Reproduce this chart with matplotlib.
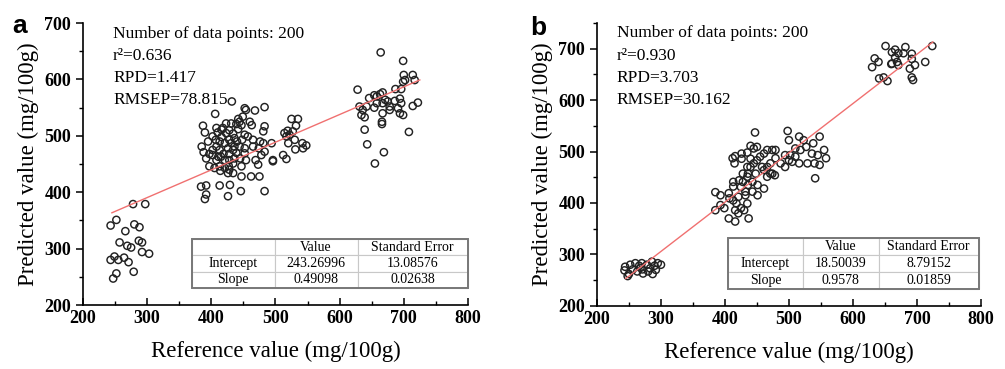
import numpy as np
import matplotlib
matplotlib.use('Agg')
import matplotlib.pyplot as plt
from matplotlib.ticker import MultipleLocator
from matplotlib.patches import Rectangle

plt.rcParams['font.family'] = 'Liberation Serif'

# %%
# panel a: reference vs predicted
a_ref = [243, 252, 278, 297, 266, 280, 288, 257, 269, 275, 287, 292, 292, 303, 243, 249, 255, 264, 271, 252, 247, 279,
         432, 406, 452, 483, 468, 387, 410, 390, 395, 385, 388, 397, 392, 397, 405, 413, 418, 423, 431, 439, 444, 428,
         434, 442, 447, 449, 454, 460, 463, 452, 483, 481, 465, 476, 481, 494, 474, 483, 478, 469, 473, 462, 475, 447,
         483, 446, 426, 429, 413, 392, 384, 392, 390, 416, 413, 421, 426, 413, 419, 428, 434, 436, 444, 452, 452, 445,
         436, 428, 421, 415, 408, 402, 402, 408, 407, 416, 428, 436, 440, 434, 427, 421, 414, 428, 426, 447, 454, 496,
         512, 517, 514, 525, 535, 532, 527, 517, 520, 530, 531, 542, 548, 543, 519, 522, 496, 423, 431, 439, 411, 434,
         448, 457, 465, 408, 402, 442,
         664, 699, 700, 702, 714, 717, 628, 699, 687, 696, 646, 654, 663, 667, 658, 671, 631, 636, 642, 654, 667, 675,
         678, 686, 694, 696, 691, 694, 699, 714, 722, 634, 639, 667, 666, 666, 639, 708, 643, 669, 655, 678, 658]
a_pred = [341, 351, 379, 379, 331, 343, 338, 311, 305, 302, 314, 311, 294, 291, 280, 286, 280, 284, 276, 256, 247, 259,
          561, 539, 549, 551, 545, 518, 506, 506, 490, 481, 471, 468, 460, 446, 443, 446, 514, 522, 522, 521, 525, 510,
          504, 512, 519, 534, 546, 525, 519, 502, 517, 508, 493, 490, 487, 487, 478, 472, 466, 457, 449, 428, 428, 428,
          402, 402, 393, 413, 412, 396, 410, 412, 388, 498, 490, 487, 478, 475, 468, 468, 475, 481, 481, 478, 469, 460,
          460, 457, 457, 463, 457, 466, 475, 481, 493, 511, 493, 496, 490, 451, 447, 443, 438, 440, 434, 446, 457, 457,
          466, 459, 505, 530, 530, 518, 508, 499, 487, 493, 476, 487, 483, 478, 509, 502, 455, 505, 487, 470, 463, 434,
          493, 499, 481, 514, 499, 530,
          648, 633, 608, 599, 608, 599, 582, 596, 583, 583, 567, 572, 574, 577, 570, 564, 552, 546, 552, 550, 558, 561,
          552, 562, 566, 558, 549, 540, 537, 553, 559, 537, 533, 540, 525, 521, 511, 507, 485, 471, 451, 546, 558]

# panel b
b_ref = [243, 248, 244, 252, 260, 266, 270, 278, 283, 290, 295, 300, 292, 287, 272, 280, 263, 256, 268, 286, 250, 271,
         447, 498, 440, 435, 445, 450, 412, 416, 415, 435, 461, 466, 474, 479, 500, 516, 523, 527, 518, 510, 505, 500,
         494, 487, 479, 471, 474, 478, 529, 538, 548, 545, 540, 555, 558, 541, 548, 536, 385, 393, 385, 393, 399, 406,
         416, 437, 416, 421, 425, 430, 435, 413, 413, 422, 428, 436, 428, 436, 443, 451, 443, 451, 461, 425, 432, 413,
         418, 407, 440, 445, 450, 455, 440, 448, 461, 466, 426, 432, 421, 435, 466, 471, 458, 494, 502, 510, 516, 406,
         426,
         651, 682, 724, 666, 692, 661, 671, 679, 666, 634, 640, 630, 661, 669, 692, 697, 713, 689, 641, 648, 654, 692,
         694, 671, 660]
b_pred = [269, 258, 276, 280, 283, 278, 283, 280, 273, 278, 283, 280, 270, 262, 263, 267, 267, 271, 274, 286, 262, 271,
          537, 540, 511, 498, 506, 509, 487, 491, 477, 470, 496, 503, 503, 503, 522, 529, 522, 509, 503, 490, 480, 483,
          470, 477, 487, 477, 457, 454, 477, 516, 529, 493, 477, 503, 487, 448, 474, 496, 421, 415, 386, 396, 390, 370,
          364, 370, 386, 380, 390, 386, 399, 432, 441, 444, 457, 457, 441, 435, 441, 435, 422, 415, 428, 431, 422, 405,
          399, 409, 470, 477, 483, 490, 486, 457, 464, 470, 486, 415, 412, 451, 451, 457, 470, 493, 493, 506, 477, 419,
          496,
          705, 703, 705, 698, 690, 693, 691, 691, 683, 681, 674, 664, 671, 674, 680, 668, 674, 661, 642, 644, 637, 644,
          639, 668, 670]

stats_a = ['Number of data points: 200', 'r\u00b2=0.636', 'RPD=1.417', 'RMSEP=78.815']
stats_b = ['Number of data points: 200', 'r\u00b2=0.930', 'RPD=3.703', 'RMSEP=30.162']
fit_a = [243.26996, 0.49098, 13.08576, 0.02638]
fit_b = [18.50039, 0.9578, 8.79152, 0.01859]
fit_a_txt = ['243.26996', '0.49098', '13.08576', '0.02638']
fit_b_txt = ['18.50039', '0.9578', '8.79152', '0.01859']

# %%
fig = plt.figure(figsize=(10.05, 3.69), dpi=100)


def panel(rect, xs, ys, ymax, fit, fit_txt, stats, txt_x, tab_box, letter, letter_xy):
    ax = fig.add_axes(rect)
    ax.scatter(xs, ys, s=27, facecolors='none', edgecolors='#222222', linewidths=1.05, zorder=3)
    lx = np.array([245, 725])
    ax.plot(lx, fit[0] + fit[1] * lx, color='#f07070', lw=1.0, zorder=4)
    ax.set_xlim(200, 800)
    ax.set_ylim(200, ymax)
    ax.xaxis.set_major_locator(MultipleLocator(100))
    ax.xaxis.set_minor_locator(MultipleLocator(50))
    ax.yaxis.set_major_locator(MultipleLocator(100))
    ax.yaxis.set_minor_locator(MultipleLocator(50))
    ax.tick_params(axis='x', which='major', direction='in', length=5, width=1.1)
    ax.tick_params(axis='x', which='minor', direction='in', length=3, width=1.0)
    ax.tick_params(axis='y', which='major', direction='out', length=5, width=1.1)
    ax.tick_params(axis='y', which='minor', direction='out', length=3, width=1.0)
    ax.tick_params(labelsize=13)
    for t in ax.get_xticklabels() + ax.get_yticklabels():
        t.set_fontweight('bold')
    for s in ['top', 'right']:
        ax.spines[s].set_visible(False)
    for s in ['left', 'bottom']:
        ax.spines[s].set_linewidth(1.2)
    ax.set_xlabel('Reference value (mg/100g)', fontsize=16.5, labelpad=10)
    ax.set_ylabel('Predicted value (mg/100g)', fontsize=16.5, labelpad=4)

    y0 = 0.963
    for k, line in enumerate(stats):
        ax.text(txt_x, y0 - k * 0.079, line, transform=ax.transAxes, fontsize=12.5,
                va='center', ha='left', zorder=5)

    cells = [['', 'Value', 'Standard Error'],
             ['Intercept', fit_txt[0], fit_txt[2]],
             ['Slope', fit_txt[1], fit_txt[3]]]
    tab = ax.table(cellText=cells, cellLoc='center', bbox=tab_box, colWidths=[0.3, 0.3, 0.4], zorder=6)
    tab.auto_set_font_size(False)
    for key, c in tab.get_celld().items():
        c.set_edgecolor('#c8c8c8')
        c.set_linewidth(0.8)
        c.set_facecolor('white')
        c.get_text().set_fontsize(10)
    ax.add_patch(Rectangle((tab_box[0], tab_box[1]), tab_box[2], tab_box[3], transform=ax.transAxes,
                           fill=False, edgecolor='#777777', lw=1.4, zorder=7, clip_on=False))
    fig.text(letter_xy[0], letter_xy[1], letter, fontsize=19, fontweight='bold',
             family='Liberation Sans', va='center', ha='left')
    return ax


panel([0.0826, 0.1734, 0.383, 0.764], a_ref, a_pred, 700, fit_a, fit_a_txt, stats_a, 0.078,
      [0.283, 0.060, 0.717, 0.174], 'a', (0.012, 0.93))
panel([0.594, 0.171, 0.382, 0.767], b_ref, b_pred, 750, fit_b, fit_b_txt, stats_b, 0.052,
      [0.341, 0.060, 0.654, 0.18], 'b', (0.528, 0.925))

fig.savefig('out.png', dpi=100)
